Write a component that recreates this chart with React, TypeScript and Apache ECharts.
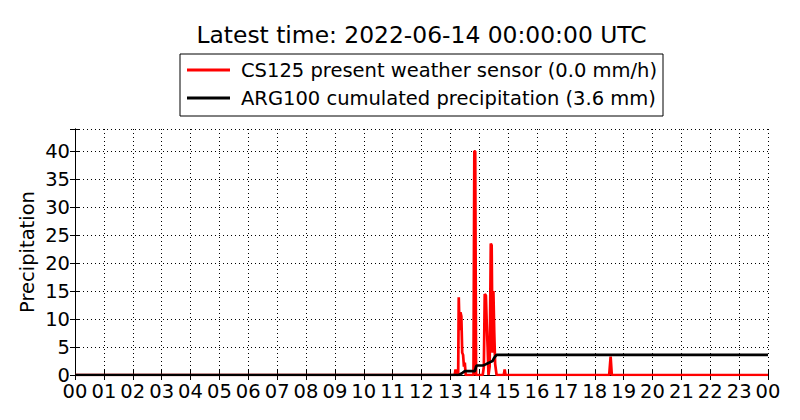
import React, { useEffect, useRef } from "react";
import * as echarts from "echarts";

const titleText = "Latest time: 2022-06-14 00:00:00 UTC";
const redName = "CS125 present weather sensor (0.0 mm/h)";
const blackName = "ARG100 cumulated precipitation (3.6 mm)";
const yAxisName = "Precipitation";

const xTickLabels = [
  "00", "01", "02", "03", "04", "05", "06", "07", "08", "09", "10", "11",
  "12", "13", "14", "15", "16", "17", "18", "19", "20", "21", "22", "23", "00",
];

// hours since 00 UTC, rain rate (mm/h)
const redHours = [
  0, 13.15, 13.18, 13.21, 13.27, 13.29, 13.32, 13.35, 13.38, 13.41, 13.44, 13.47,
  13.5, 13.53, 13.8, 13.83, 13.86, 13.89, 14.12, 14.16, 14.19, 14.23, 14.26, 14.29,
  14.32, 14.36, 14.4, 14.43, 14.46, 14.49, 14.52, 14.55, 14.6, 14.85, 14.88, 14.91,
  18.5, 18.55, 18.59, 24,
];
const redValues = [
  0, 0, 1.0, 0, 0, 13.9, 8, 11.2, 10.5, 4, 3.6, 1.5,
  2.2, 0, 0, 40, 40, 0, 0, 1.5, 14.5, 14.2, 9.1, 5,
  0, 1.5, 23.5, 23.2, 4, 15, 7.5, 2, 0, 0, 1.0, 0,
  0, 3.3, 0, 0,
];

// hours since 00 UTC, cumulated precipitation (mm)
const blackHours = [
  0, 13.3, 13.36, 13.42, 13.5, 13.85, 13.87, 13.89, 13.91, 14.13, 14.22, 14.3,
  14.38, 14.46, 14.51, 14.55, 14.6, 24,
];
const blackValues = [
  0, 0, 0.2, 0.4, 0.7, 0.7, 1.1, 1.5, 1.7, 1.7, 1.9, 2.1,
  2.3, 2.5, 3.0, 3.3, 3.6, 3.6,
];

const FONT = "DejaVu Sans";
const FS = 19.5;

export default function App() {
  const ref = useRef<HTMLDivElement>(null);
  useEffect(() => {
    if (!ref.current) return;
    const chart = echarts.init(ref.current, null, { renderer: "svg" });
    const redData = redHours.map((h, i) => [h, redValues[i]]);
    const blackData = blackHours.map((h, i) => [h, blackValues[i]]);
    const dotted = { color: "#000", width: 1, type: [1, 3] as any };
    const tick = { show: true, inside: true, length: 5, lineStyle: { color: "#000", width: 1 } };
    const axisLine = { show: true, lineStyle: { color: "#000", width: 1 } };
    chart.setOption({
      animation: false,
      backgroundColor: "#fff",
      textStyle: { fontFamily: FONT },
      graphic: [
        {
          type: "text",
          x: 421.5,
          y: 35,
          style: {
            text: titleText,
            fontSize: 23.4,
            fontFamily: FONT,
            fill: "#000",
            align: "center",
            verticalAlign: "middle",
          },
        },
      ],
      legend: {
        orient: "vertical",
        left: 180,
        top: 54,
        borderColor: "#000",
        borderWidth: 1,
        borderRadius: 0,
        padding: [6, 6, 8, 7],
        itemGap: 8,
        itemWidth: 43,
        itemHeight: 3,
        icon: "rect",
        textStyle: { fontSize: FS, fontFamily: FONT, color: "#000", padding: [0, 0, 0, 6] },
        data: [redName, blackName],
      },
      grid: { left: 75, right: 32, top: 129, bottom: 45, show: false },
      xAxis: [
        {
          type: "value",
          min: 0,
          max: 24,
          interval: 1,
          position: "bottom",
          axisLine,
          axisTick: tick,
          splitLine: { show: true, lineStyle: dotted },
          axisLabel: {
            color: "#000",
            fontSize: FS,
            fontFamily: FONT,
            margin: 6,
            formatter: (v: number) => xTickLabels[Math.round(v)] ?? "",
          },
        },
        {
          type: "value",
          min: 0,
          max: 24,
          interval: 1,
          position: "top",
          axisLine,
          axisTick: tick,
          splitLine: { show: false },
          axisLabel: { show: false },
        },
      ],
      yAxis: [
        {
          type: "value",
          min: 0,
          max: 44,
          interval: 5,
          position: "left",
          name: yAxisName,
          nameLocation: "middle",
          nameGap: 38,
          nameMoveOverlap: false,
          nameTextStyle: { fontSize: FS, fontFamily: FONT, color: "#000" },
          axisLine,
          axisTick: tick,
          splitLine: { show: true, lineStyle: dotted },
          axisLabel: {
            color: "#000",
            fontSize: FS,
            fontFamily: FONT,
            margin: 5,
            formatter: (v: number) => (v % 5 === 0 ? String(v) : ""),
          },
        },
        {
          type: "value",
          min: 0,
          max: 44,
          interval: 5,
          position: "right",
          axisLine,
          axisTick: tick,
          splitLine: { show: false },
          axisLabel: { show: false },
        },
      ],
      series: [
        {
          name: redName,
          type: "line",
          data: redData,
          showSymbol: false,
          symbol: "none",
          color: "#ff0000",
          lineStyle: { color: "#ff0000", width: 2.7 },
          xAxisIndex: 0,
          yAxisIndex: 0,
        },
        {
          name: blackName,
          type: "line",
          data: blackData,
          showSymbol: false,
          symbol: "none",
          color: "#000",
          lineStyle: { color: "#000", width: 2.7 },
          xAxisIndex: 0,
          yAxisIndex: 0,
        },
      ],
    });
    return () => chart.dispose();
  }, []);
  return (
    <div
      ref={ref}
      style={{ position: "fixed", left: 0, top: 0, width: 800, height: 420, background: "#fff" }}
    />
  );
}
